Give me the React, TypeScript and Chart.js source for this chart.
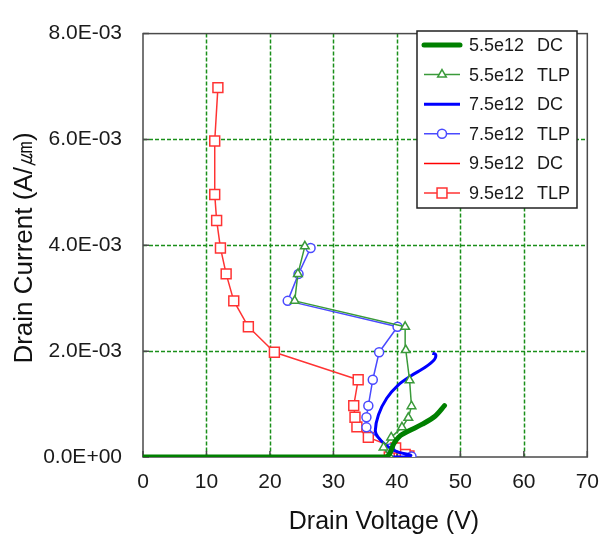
import React, { useEffect, useRef } from 'react';
import { Chart, registerables } from 'chart.js';

Chart.register(...registerables);

// ---- data ----
const xTickValues = [0, 10, 20, 30, 40, 50, 60, 70];
const yTickValues = [0, 0.002, 0.004, 0.006, 0.008];

const seriesNames = ['5.5e12', '5.5e12', '7.5e12', '7.5e12', '9.5e12', '9.5e12'];
const seriesTypes = ['DC', 'TLP', 'DC', 'TLP', 'DC', 'TLP'];

// 5.5e12 DC
const dc55V = [0, 38, 38.8, 39.5, 40.5, 42, 44, 46, 47.5];
const dc55I = [0, 0, 0.00005, 0.00025, 0.0004, 0.0005, 0.00062, 0.00077, 0.00097];
// 5.5e12 TLP
const tlp55V = [38.9, 37.9, 39.1, 40.8, 41.8, 42.3, 42.0, 41.4, 41.3, 23.9, 24.4, 25.5];
const tlp55I = [0, 0.00018, 0.00037, 0.00056, 0.00074, 0.00096, 0.00145, 0.00202, 0.00246, 0.00295, 0.00346, 0.00398];
// 7.5e12 DC
const dc75V = [0, 41, 42.2, 40, 38.3, 37, 36.6, 37.1, 38.4, 40.2, 42.3, 44.4, 45.9, 46.1, 45.6];
const dc75I = [0, 0, 0.00003, 0.0001, 0.00022, 0.00038, 0.0005, 0.0008, 0.00111, 0.00136, 0.00154, 0.00169, 0.00184, 0.00194, 0.00196];
// 7.5e12 TLP
const tlp75V = [42.3, 38.9, 35.2, 35.2, 35.5, 36.2, 37.2, 40.1, 22.8, 24.5, 26.4];
const tlp75I = [0.00001, 0.00016, 0.00056, 0.00075, 0.00097, 0.00146, 0.00198, 0.00246, 0.00295, 0.00346, 0.00395];
// 9.5e12 DC
const dc95V = [0, 38, 39];
const dc95I = [0, 0, 0.00002];
// 9.5e12 TLP
const tlp95V = [38.8, 41.9, 41.3, 39.8, 35.5, 33.7, 33.4, 33.2, 33.9, 20.7, 16.6, 14.3, 13.1, 12.2, 11.6, 11.3, 11.3, 11.8];
const tlp95I = [0, 0.00002, 0.00005, 0.00017, 0.00037, 0.00057, 0.00075, 0.00097, 0.00146, 0.00198, 0.00246, 0.00295, 0.00346, 0.00395, 0.00447, 0.00496, 0.00597, 0.00698];

const zip = (xs: number[], ys: number[]) => xs.map((x, i) => ({ x, y: ys[i] }));

const fmtE = (v: number) => {
  const s = v.toExponential(1);
  const [m, e] = s.split('e');
  const sign = e.startsWith('-') ? '-' : '+';
  const num = Math.abs(parseInt(e, 10));
  return `${m}E${sign}${num < 10 ? '0' + num : num}`;
};

const FONT = '"Liberation Sans", Arial, sans-serif';

type Style = { color: string; width: number; marker: string | null; r: number };
const styles: Style[] = [
  { color: '#008000', width: 5, marker: null, r: 0 },
  { color: '#3a9a3a', width: 1.5, marker: 'triangle', r: 5 },
  { color: '#0000ff', width: 3, marker: null, r: 0 },
  { color: '#4a4aff', width: 1.5, marker: 'circle', r: 4.5 },
  { color: '#ff0000', width: 1.5, marker: null, r: 0 },
  { color: '#ff3333', width: 1.5, marker: 'rect', r: 7 },
];

function drawMarker(ctx: CanvasRenderingContext2D, kind: string, x: number, y: number, r: number, color: string) {
  ctx.save();
  ctx.fillStyle = '#ffffff';
  ctx.strokeStyle = color;
  ctx.lineWidth = 1.5;
  ctx.beginPath();
  if (kind === 'circle') {
    ctx.arc(x, y, r, 0, Math.PI * 2);
  } else if (kind === 'rect') {
    const s = r * Math.SQRT1_2;
    ctx.rect(x - s, y - s, 2 * s, 2 * s);
  } else if (kind === 'triangle') {
    ctx.moveTo(x, y - r);
    ctx.lineTo(x + r * Math.sin(Math.PI / 3), y + r / 2);
    ctx.lineTo(x - r * Math.sin(Math.PI / 3), y + r / 2);
    ctx.closePath();
  }
  ctx.fill();
  ctx.stroke();
  ctx.restore();
}

const decorPlugin = {
  id: 'decor',
  beforeDatasetsDraw(chart: any) {
    const { ctx, chartArea: a, scales } = chart;
    ctx.save();
    // grid (green dashed)
    ctx.strokeStyle = '#1a8f1a';
    ctx.lineWidth = 1.5;
    ctx.setLineDash([4, 2]);
    ctx.beginPath();
    xTickValues.slice(1, -1).forEach((v) => {
      const x = Math.round(scales.x.getPixelForValue(v)) + 0.5;
      ctx.moveTo(x, a.top);
      ctx.lineTo(x, a.bottom);
    });
    yTickValues.slice(1, -1).forEach((v) => {
      const y = Math.round(scales.y.getPixelForValue(v)) + 0.5;
      ctx.moveTo(a.left, y);
      ctx.lineTo(a.right, y);
    });
    ctx.stroke();
    ctx.setLineDash([]);
    // frame
    ctx.strokeStyle = '#4a4a4a';
    ctx.lineWidth = 1.5;
    ctx.strokeRect(a.left, a.top, a.right - a.left, a.bottom - a.top);
    // inner tick marks
    ctx.beginPath();
    xTickValues.forEach((v) => {
      const x = scales.x.getPixelForValue(v);
      ctx.moveTo(x, a.bottom);
      ctx.lineTo(x, a.bottom - 6);
    });
    yTickValues.forEach((v) => {
      const y = scales.y.getPixelForValue(v);
      ctx.moveTo(a.left, y);
      ctx.lineTo(a.left + 6, y);
    });
    ctx.stroke();
    ctx.restore();
  },
  afterDatasetsDraw(chart: any) {
    const { ctx } = chart;
    const bx = 417, by = 31, bw = 160, bh = 177;
    ctx.save();
    ctx.fillStyle = '#ffffff';
    ctx.fillRect(bx, by, bw, bh);
    ctx.strokeStyle = '#222';
    ctx.lineWidth = 1.5;
    ctx.strokeRect(bx, by, bw, bh);
    ctx.font = `18px ${FONT}`;
    ctx.textBaseline = 'middle';
    ctx.textAlign = 'left';
    seriesNames.forEach((name, i) => {
      const st = styles[i];
      const y = 45 + i * 29.6;
      ctx.strokeStyle = st.color;
      ctx.lineWidth = st.width;
      ctx.lineCap = st.width > 3 ? 'round' : 'butt';
      ctx.beginPath();
      ctx.moveTo(424, y);
      ctx.lineTo(460, y);
      ctx.stroke();
      if (st.marker) drawMarker(ctx, st.marker, 442, y, st.r, st.color);
      ctx.fillStyle = '#1a1a1a';
      ctx.fillText(name, 469, y + 1);
      ctx.fillText(seriesTypes[i], 537, y + 1);
    });
    ctx.restore();
  },
  afterDraw(chart: any) {
    const { ctx } = chart;
    ctx.save();
    ctx.fillStyle = '#111';
    ctx.font = `25px ${FONT}`;
    ctx.textAlign = 'center';
    ctx.textBaseline = 'middle';
    ctx.fillText('Drain Voltage (V)', 384, 522);
    ctx.translate(25, 248);
    ctx.rotate(-Math.PI / 2);
    ctx.font = `26px ${FONT}`;
    ctx.fillText('Drain Current (A/㎛)', 0, 0);
    ctx.restore();
  },
};

export default function App() {
  const ref = useRef<HTMLCanvasElement | null>(null);

  useEffect(() => {
    if (!ref.current) return;
    const data = [
      zip(dc55V, dc55I),
      zip(tlp55V, tlp55I),
      zip(dc75V, dc75I),
      zip(tlp75V, tlp75I),
      zip(dc95V, dc95I),
      zip(tlp95V, tlp95I),
    ];
    const datasets = data.map((d, i) => {
      const st = styles[i];
      return {
        label: `${seriesNames[i]} ${seriesTypes[i]}`,
        data: d,
        showLine: true,
        borderColor: st.color,
        borderWidth: st.width,
        backgroundColor: '#ffffff',
        pointStyle: st.marker || 'circle',
        pointRadius: st.marker ? st.r : 0,
        pointBorderWidth: 1.5,
        pointBorderColor: st.color,
        pointBackgroundColor: '#ffffff',
        tension: st.marker ? 0 : 0.3,
        borderCapStyle: st.width > 3 ? 'round' : 'butt',
        borderJoinStyle: 'round',
      };
    });

    const chart = new Chart(ref.current, {
      type: 'scatter',
      data: { datasets: datasets as any },
      options: {
        responsive: false,
        animation: false,
        layout: { padding: { left: 0, top: 22, right: 22, bottom: 0 } },
        plugins: { legend: { display: false }, tooltip: { enabled: false } },
        scales: {
          x: {
            type: 'linear',
            min: 0,
            max: 70,
            afterFit: (s: any) => { s.height = 83; },
            afterBuildTicks: (s: any) => { s.ticks = xTickValues.map((v) => ({ value: v })); },
            ticks: { padding: 13, color: '#1a1a1a', font: { family: FONT, size: 21 } },
            grid: { display: false, drawTicks: false },
            border: { display: false },
          },
          y: {
            type: 'linear',
            min: 0,
            max: 0.008,
            afterFit: (s: any) => { s.width = 143; },
            afterBuildTicks: (s: any) => { s.ticks = yTickValues.map((v) => ({ value: v })); },
            ticks: {
              padding: 21,
              color: '#1a1a1a',
              font: { family: FONT, size: 21 },
              callback: (v: any) => fmtE(Number(v)),
            },
            grid: { display: false, drawTicks: false },
            border: { display: false },
          },
        },
      },
      plugins: [decorPlugin],
    });
    return () => chart.destroy();
  }, []);

  return (
    <div style={{ position: 'absolute', left: 0, top: 0, width: 612, height: 540, background: '#fff' }}>
      <canvas ref={ref} width={612} height={540} style={{ display: 'block' }} />
    </div>
  );
}
